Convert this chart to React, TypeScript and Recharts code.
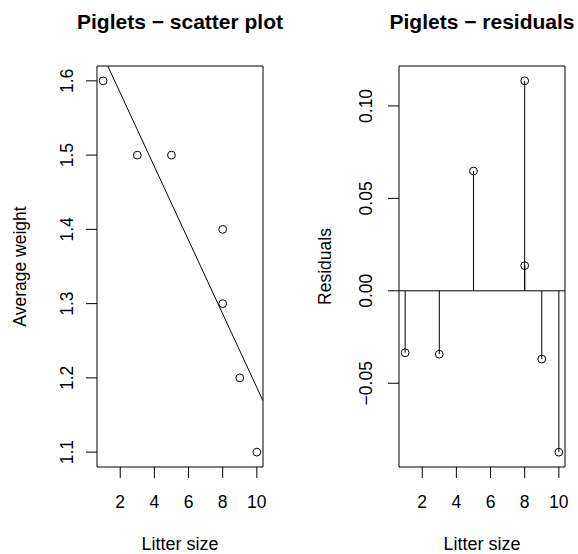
import React from 'react'
import {
  ScatterChart,
  Scatter,
  XAxis,
  YAxis,
  ReferenceArea,
  ReferenceLine,
} from 'recharts'

// piglets data
const litterSize = [1, 3, 5, 8, 8, 9, 10]
const avgWeight = [1.6, 1.5, 1.5, 1.4, 1.3, 1.2, 1.1]
const residuals = [-0.0335, -0.0343, 0.0648, 0.1136, 0.0136, -0.0369, -0.0873]

// least squares line drawn across the scatter panel
const fitIntercept = 1.683
const fitSlope = -0.0496

const xTicks = [2, 4, 6, 8, 10]
const weightTicks = [1.1, 1.2, 1.3, 1.4, 1.5, 1.6]
const weightTickLabels = ['1.1', '1.2', '1.3', '1.4', '1.5', '1.6']
const residTicks = [-0.05, 0, 0.05, 0.1]
const residTickLabels = ['\u22120.05', '0.00', '0.05', '0.10']

const xDomain: [number, number] = [0.64, 10.36]
const weightDomain: [number, number] = [1.08, 1.62]
const residDomain: [number, number] = [-0.0953, 0.1216]

const FONT = '"Liberation Sans", Arial, Helvetica, sans-serif'
const INK = '#000'

const scatterData = litterSize.map((x, i) => ({ x, y: avgWeight[i] }))
const residData = litterSize.map((x, i) => ({ x, y: residuals[i] }))

function OpenCircle(props: any) {
  return <circle cx={props.cx} cy={props.cy} r={3.9} fill="none" stroke={INK} strokeWidth={1} />
}

function XTick(props: any) {
  const { x, payload } = props
  return (
    <text x={x} y={507.5} textAnchor="middle" fontSize={17.5} fontFamily={FONT} fill={INK}>
      {payload.value}
    </text>
  )
}

function makeYTick(baseX: number, ticks: number[], labels: string[]) {
  return function YTick(props: any) {
    const { y, payload } = props
    const idx = ticks.findIndex((t) => Math.abs(t - payload.value) < 1e-9)
    return (
      <text
        x={baseX}
        y={y}
        transform={`rotate(-90 ${baseX} ${y})`}
        textAnchor="middle"
        fontSize={17.5}
        fontFamily={FONT}
        fill={INK}
      >
        {idx >= 0 ? labels[idx] : payload.value}
      </text>
    )
  }
}

const WeightTick = makeYTick(73.3, weightTicks, weightTickLabels)
const ResidTick = makeYTick(83.3, residTicks, residTickLabels)

function ScatterPanel() {
  return (
    <ScatterChart width={289} height={554} margin={{ top: 66, right: 26, bottom: 37, left: 37 }}>
      <XAxis
        type="number"
        dataKey="x"
        domain={xDomain}
        ticks={xTicks}
        allowDataOverflow
        axisLine={false}
        tickLine={{ stroke: INK }}
        tickSize={11}
        height={50}
        tick={<XTick />}
      />
      <YAxis
        type="number"
        dataKey="y"
        domain={weightDomain}
        ticks={weightTicks}
        allowDataOverflow
        axisLine={false}
        tickLine={{ stroke: INK }}
        tickSize={11}
        width={60}
        tick={<WeightTick />}
      />
      <ReferenceArea
        x1={xDomain[0]}
        x2={xDomain[1]}
        y1={weightDomain[0]}
        y2={weightDomain[1]}
        fill="none"
        stroke={INK}
        strokeWidth={1}
        ifOverflow="visible"
      />
      <ReferenceLine
        segment={[
          { x: xDomain[0], y: fitIntercept + fitSlope * xDomain[0] },
          { x: xDomain[1], y: fitIntercept + fitSlope * xDomain[1] },
        ]}
        stroke={INK}
        strokeWidth={1}
        ifOverflow="hidden"
      />
      <Scatter data={scatterData} shape={<OpenCircle />} isAnimationActive={false} />
    </ScatterChart>
  )
}

function ResidualPanel() {
  return (
    <ScatterChart width={289} height={554} margin={{ top: 66, right: 13, bottom: 37, left: 50 }}>
      <XAxis
        type="number"
        dataKey="x"
        domain={xDomain}
        ticks={xTicks}
        allowDataOverflow
        axisLine={false}
        tickLine={{ stroke: INK }}
        tickSize={11}
        height={50}
        tick={<XTick />}
      />
      <YAxis
        type="number"
        dataKey="y"
        domain={residDomain}
        ticks={residTicks}
        allowDataOverflow
        axisLine={false}
        tickLine={{ stroke: INK }}
        tickSize={11}
        width={60}
        tick={<ResidTick />}
      />
      <ReferenceArea
        x1={xDomain[0]}
        x2={xDomain[1]}
        y1={residDomain[0]}
        y2={residDomain[1]}
        fill="none"
        stroke={INK}
        strokeWidth={1}
        ifOverflow="visible"
      />
      <ReferenceLine y={0} stroke={INK} strokeWidth={1} />
      {residData.map((d, i) => (
        <ReferenceLine
          key={i}
          segment={[
            { x: d.x, y: 0 },
            { x: d.x, y: d.y },
          ]}
          stroke={INK}
          strokeWidth={1}
        />
      ))}
      <Scatter data={residData} shape={<OpenCircle />} isAnimationActive={false} />
    </ScatterChart>
  )
}

export default function App() {
  return (
    <div style={{ position: 'absolute', left: 0, top: 0, width: 578, height: 554, background: '#fff' }}>
      <div style={{ position: 'absolute', left: 0, top: 0 }}>
        <ScatterPanel />
      </div>
      <div style={{ position: 'absolute', left: 289, top: 0 }}>
        <ResidualPanel />
      </div>
      <svg
        width={578}
        height={554}
        style={{ position: 'absolute', left: 0, top: 0, pointerEvents: 'none' }}
        fontFamily={FONT}
        fill={INK}
      >
        <text x={180} y={28.5} textAnchor="middle" fontSize={21} fontWeight="bold">
          Piglets {'\u2212'} scatter plot
        </text>
        <text x={482} y={28.5} textAnchor="middle" fontSize={21} fontWeight="bold">
          Piglets {'\u2212'} residuals
        </text>
        <text x={180} y={550} textAnchor="middle" fontSize={18}>
          Litter size
        </text>
        <text x={482} y={550} textAnchor="middle" fontSize={18}>
          Litter size
        </text>
        <text x={25.7} y={266.5} transform="rotate(-90 25.7 266.5)" textAnchor="middle" fontSize={17.5}>
          Average weight
        </text>
        <text x={330.7} y={266.5} transform="rotate(-90 330.7 266.5)" textAnchor="middle" fontSize={17.5}>
          Residuals
        </text>
      </svg>
    </div>
  )
}
